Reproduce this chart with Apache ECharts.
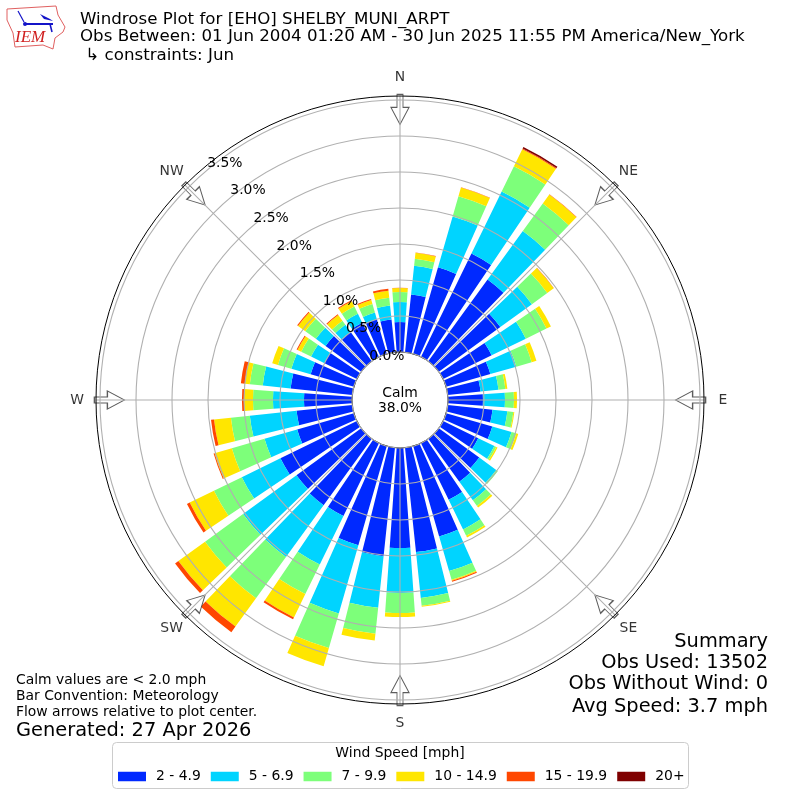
<!DOCTYPE html>
<html><head><meta charset="utf-8">
<style>html,body{margin:0;padding:0;background:#fff}#c{width:800px;height:800px}</style>
<script src="https://cdn.jsdelivr.net/npm/echarts@6/dist/echarts.min.js"></script>
</head><body><div id="c"></div>
<script>
const FONT = 'DejaVu Sans';
const directions = Array.from({length:36},(_, i)=>String(i*10));
const compass = ['N','NE','E','SE','S','SW','W','NW'];
const speedBins = ['2 - 4.9','5 - 6.9','7 - 9.9','10 - 14.9','15 - 19.9','20+'];
const binColors = ['#0029ff','#00d4ff','#7dff7a','#ffe600','#ff4700','#7f0000'];
const bin1 = [.417,.806,1.25,1.597,1.403,1.056,.75,.639,.458,.486,.625,.667,.542,.694,.736,.875,1.306,1.458,1.389,1.514,1.431,1.125,1.139,1.111,1.181,.819,.778,.667,.861,.625,.5,.611,.5,.528,.5,.458];
const bin2 = [.278,.403,.736,.958,.833,.542,.528,.375,.25,.306,.208,.278,.25,.292,.319,.458,.5,.639,.625,.722,.986,.75,.889,.917,.597,.472,.653,.431,.389,.278,.208,.167,.125,.139,.097,.194];
const bin3 = [.139,.097,.292,.389,.472,.264,.319,.222,.097,.125,.083,.069,.028,.028,.097,.097,.125,.111,.278,.361,.5,.458,.708,.653,.431,.472,.264,.278,.181,.194,.153,.181,.069,.111,.125,.111];
const bin4 = [.056,.083,.125,.264,.153,.111,.069,.069,.028,.042,.014,.028,.021,0,.028,.028,.014,.014,.056,.097,.264,.361,.486,.458,.375,.25,.236,.125,.069,.083,.056,.125,.097,.083,.056,.097];
const bin5 = [.004,.006,.006,.014,.006,.004,0,0,0,0,0,0,0,0,0,0,.014,0,0,0,0,.028,.097,.056,.042,.014,.042,.028,.056,0,.014,.014,.014,.014,.014,.028];
const bin6 = [0,0,0,.021,0,0,0,0,0,0,0,0,0,0,0,0,0,0,0,0,0,0,0,0,0,0,0,0,0,0,0,0,0,0,0,0];
const bins = [bin1,bin2,bin3,bin4,bin5,bin6];
const arrowRadius = 3.37;
const labelRadius = 3.82;
const RMAX = 3.556;
const titleLines = ['Windrose Plot for [EHO] SHELBY_MUNI_ARPT','Obs Between: 01 Jun 2004 01:20 AM - 30 Jun 2025 11:55 PM America/New_York',' ↳ constraints: Jun'];
const noteLines = ['Calm values are < 2.0 mph','Bar Convention: Meteorology','Flow arrows relative to plot center.'];
const summaryLines = ['Summary','Obs Used: 13502','Obs Without Wind: 0','Avg Speed: 3.7 mph'];

function txt(x,y,text,size,align,color,extra){
  return Object.assign({type:'text',x,y,z:50,silent:true,style:{text,font:size+'px "'+FONT+'"',fill:color||'#000',align:align||'left',verticalAlign:'middle'}},extra||{});
}
const graphics = [];
[19.5,36.5,55.5].forEach((y,i)=>graphics.push(txt(80,y,titleLines[i],16.67)));
[680.5,696.5,712.5].forEach((y,i)=>graphics.push(txt(16,y,noteLines[i],13.9)));
graphics.push(txt(16,730.5,'Generated: 27 Apr 2026',19.4));
[642,663,684,707].forEach((y,i)=>graphics.push(txt(768,y,summaryLines[i],19.4,'right')));
graphics.push(txt(400,393,'Calm',13.9,'center'));
graphics.push(txt(400,408,'38.0%',13.9,'center'));
// legend frame
graphics.push({type:'rect',z:1,silent:true,shape:{x:112.5,y:742.5,width:576,height:46,r:4},style:{fill:'#fff',stroke:'#ccc',lineWidth:1}});
graphics.push(txt(400,753,'Wind Speed [mph]',13.9,'center'));
// logo
graphics.push({type:'polygon',z:50,silent:true,shape:{points:[[7,9],[56,6],[58,15],[65,27],[63,32],[55,38],[53,49],[43,45],[15,47],[13,33],[7,20]]},style:{fill:'#fff',stroke:'#e06060',lineWidth:1}});
graphics.push({type:'polyline',z:51,silent:true,shape:{points:[[25,24],[53,24]]},style:{stroke:'#1414c8',lineWidth:2,fill:'none'}});
graphics.push({type:'polyline',z:51,silent:true,shape:{points:[[18,11],[24,22]]},style:{stroke:'#1414c8',lineWidth:1.2,fill:'none'}});
graphics.push({type:'polygon',z:51,silent:true,shape:{points:[[40,14],[50,19],[53,21],[44,19]]},style:{fill:'#1414c8'}});
graphics.push({type:'polyline',z:51,silent:true,shape:{points:[[50,24],[52,32]]},style:{stroke:'#1414c8',lineWidth:1.5,fill:'none'}});
graphics.push({type:'circle',z:51,silent:true,shape:{cx:25,cy:24,r:2},style:{fill:'#1414c8'}});
graphics.push({type:'text',x:15,y:38,z:51,silent:true,style:{text:'IEM',font:'italic 17px "Liberation Serif"',fill:'#d02020',align:'left',verticalAlign:'middle'}});

const option = {
  animation:false,
  backgroundColor:'#fff',
  textStyle:{fontFamily:FONT},
  graphic:{elements:graphics},
  legend:{
    left:118, top:769.5, padding:0, orient:'horizontal', itemWidth:28, itemHeight:9.5, itemGap:10, z:5,
    icon:'rect', data:speedBins, selectedMode:false,
    textStyle:{fontFamily:FONT,fontSize:13.9,color:'#000',padding:[0,0,0,5]}
  },
  polar:[
    {center:[400,400],radius:[48,304]},
    {center:[400,400],radius:[48,304]},
    {center:[400,400],radius:[48,300]}
  ],
  angleAxis:[
    {polarIndex:0,type:'category',data:directions,startAngle:95,clockwise:true,
     axisLine:{show:false},axisTick:{show:false},axisLabel:{show:false},splitLine:{show:false}},
    {polarIndex:1,type:'category',data:compass,startAngle:90,boundaryGap:false,z:5,
     axisLine:{show:true,lineStyle:{color:'#000',width:1}},axisTick:{show:false},axisLabel:{show:false},
     splitLine:{show:true,lineStyle:{color:'#b0b0b0',width:1.1}}},
    {polarIndex:2,type:'value',min:0,max:360,startAngle:130,show:false}
  ],
  radiusAxis:[
    {polarIndex:0,type:'value',min:0,max:RMAX,axisLine:{show:false},axisTick:{show:false},axisLabel:{show:false},splitLine:{show:false}},
    {polarIndex:1,type:'value',min:0,max:RMAX,axisLine:{show:false},axisTick:{show:false},axisLabel:{show:false},splitLine:{show:false}},
    {polarIndex:2,type:'value',min:0,max:3.5,interval:0.5,z:6,axisLine:{show:false},axisTick:{show:false},
     axisLabel:{show:true,margin:0,align:'left',verticalAlign:'bottom',color:'#000',fontFamily:FONT,fontSize:13.9,
       formatter:v=>v.toFixed(1)+'%'},
     splitLine:{show:true,lineStyle:{color:'#b0b0b0',width:1.1}}}
  ],
  series:[
    ...speedBins.map((name,i)=>({
      name,type:'bar',coordinateSystem:'polar',polarIndex:0,stack:'wind',barCategoryGap:'20%',
      silent:true,z:2,itemStyle:{color:binColors[i]},data:bins[i]
    })),
    {type:'scatter',coordinateSystem:'polar',polarIndex:1,silent:true,z:3,clip:false,
     symbol:'path://M6 0 L12 0 L12 13 L18 13 L9 30 L0 13 L6 13 Z',symbolSize:[18,30],
     symbolRotate:(v,p)=>-45*p.dataIndex,
     itemStyle:{color:'#fff',borderColor:'#333',borderWidth:1.1},
     data:compass.map(c=>[arrowRadius,c])},
    {type:'scatter',coordinateSystem:'polar',polarIndex:1,silent:true,z:7,clip:false,
     symbol:'circle',symbolSize:1,itemStyle:{color:'rgba(0,0,0,0)'},
     label:{show:true,position:'inside',align:'center',verticalAlign:'middle',color:'#000',fontFamily:FONT,fontSize:13.9,
       formatter:p=>compass[p.dataIndex]},
     data:compass.map(c=>[labelRadius,c])}
  ]
};
const chart = echarts.init(document.getElementById('c'),null,{renderer:'canvas',width:800,height:800});
chart.setOption(option);
</script></body></html>
